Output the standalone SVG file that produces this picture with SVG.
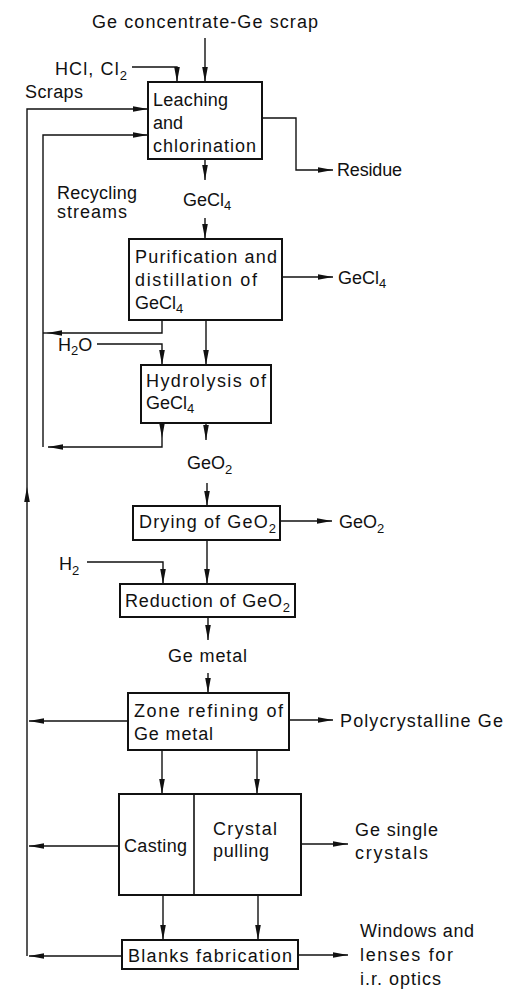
<svg xmlns="http://www.w3.org/2000/svg" width="506" height="990" viewBox="0 0 506 990">
<style>
  text { font-family: "Liberation Sans", Arial, sans-serif; font-size: 18px; fill: #111; }
  .sub { font-size: 13px; }
  .box { fill: #fff; stroke: #111; stroke-width: 2; }
  .ln { fill: none; stroke: #111; stroke-width: 1.4; }
  .arr { fill: none; stroke: #111; stroke-width: 1.4; marker-end: url(#ah); }
</style>
<defs>
  <marker id="ah" markerUnits="userSpaceOnUse" markerWidth="15" markerHeight="6" refX="15" refY="3" orient="auto">
    <path d="M0,0.2 L15,3 L0,5.8 z" fill="#111"/>
  </marker>
</defs>
<rect width="506" height="990" fill="#fff"/>

<g id="connectors">
  <path class="arr" d="M205,38 L205,82"/>
  <path class="arr" d="M132,67 L177,67 L177,82"/>
  <path class="arr" d="M27,956 L27,487"/>
  <path class="arr" d="M27,487 L27,109 L148,109"/>
  <path class="arr" d="M43,447 L43,135 L148,135"/>
  <path class="arr" d="M262,118 L296,118 L296,170 L333,170"/>
  <path class="arr" d="M205,159 L205,180"/>
  <path class="arr" d="M205,218 L205,239"/>
  <path class="arr" d="M282,277 L333,277"/>
  <path class="arr" d="M162,320 L162,333 L47,333"/>
  <path class="ln" d="M47,333 L43,333"/>
  <path class="arr" d="M97,344 L162,344 L162,365"/>
  <path class="arr" d="M206,320 L206,365"/>
  <path class="arr" d="M162,423 L162,438"/>
  <path class="arr" d="M162,438 L162,447 L48,447"/>
  <path class="arr" d="M206,423 L206,440"/>
  <path class="arr" d="M207,483 L207,506"/>
  <path class="arr" d="M280,521 L332,521"/>
  <path class="arr" d="M87,562 L163,562 L163,584"/>
  <path class="arr" d="M207,540 L207,584"/>
  <path class="arr" d="M208,617 L208,640"/>
  <path class="arr" d="M208,673 L208,693"/>
  <path class="arr" d="M128,721 L29,721"/>
  <path class="arr" d="M289,720 L333,720"/>
  <path class="arr" d="M162,750 L162,794"/>
  <path class="arr" d="M257,750 L257,794"/>
  <path class="arr" d="M119,846 L29,846"/>
  <path class="arr" d="M301,844 L348,844"/>
  <path class="arr" d="M163,895 L163,940"/>
  <path class="arr" d="M258,895 L258,940"/>
  <path class="arr" d="M122,956 L29,956"/>
  <path class="arr" d="M298,955 L348,955"/>
</g>

<g id="input-feed"><text x="92" y="28" textLength="226" lengthAdjust="spacing">Ge concentrate-Ge scrap</text></g>
<g id="input-hcl"><text x="55" y="75" textLength="72" lengthAdjust="spacing">HCl, Cl<tspan class="sub" dy="5">2</tspan></text></g>
<g id="label-scraps"><text x="25" y="98" textLength="58" lengthAdjust="spacing">Scraps</text></g>
<g id="label-recycling">
  <text x="57" y="199" textLength="80" lengthAdjust="spacing">Recycling</text>
  <text x="57" y="218" textLength="70" lengthAdjust="spacing">streams</text>
</g>

<g id="leaching">
  <rect class="box" x="148" y="82" width="114" height="77"/>
  <text x="153" y="106" textLength="75" lengthAdjust="spacing">Leaching</text>
  <text x="153" y="129" textLength="30" lengthAdjust="spacing">and</text>
  <text x="153" y="152" textLength="103" lengthAdjust="spacing">chlorination</text>
</g>
<g id="out-residue"><text x="337" y="176" textLength="65" lengthAdjust="spacing">Residue</text></g>
<g id="mid-gecl4"><text x="183" y="206">GeCl<tspan class="sub" dy="4">4</tspan></text></g>

<g id="purification">
  <rect class="box" x="129" y="239" width="153" height="81"/>
  <text x="135" y="263" textLength="142" lengthAdjust="spacing">Purification and</text>
  <text x="135" y="286" textLength="122" lengthAdjust="spacing">distillation of</text>
  <text x="135" y="309">GeCl<tspan class="sub" dy="4">4</tspan></text>
</g>
<g id="out-gecl4"><text x="338" y="284">GeCl<tspan class="sub" dy="4">4</tspan></text></g>
<g id="input-h2o"><text x="58" y="351">H<tspan class="sub" dy="4">2</tspan><tspan dy="-4">O</tspan></text></g>

<g id="hydrolysis">
  <rect class="box" x="141" y="365" width="130" height="58"/>
  <text x="146" y="387" textLength="120" lengthAdjust="spacing">Hydrolysis of</text>
  <text x="146" y="409">GeCl<tspan class="sub" dy="4">4</tspan></text>
</g>
<g id="mid-geo2"><text x="187" y="469">GeO<tspan class="sub" dy="5">2</tspan></text></g>

<g id="drying">
  <rect class="box" x="133" y="506" width="147" height="34"/>
  <text x="139" y="528" textLength="137" lengthAdjust="spacing">Drying of GeO<tspan class="sub" dy="5">2</tspan></text>
</g>
<g id="out-geo2"><text x="339" y="528">GeO<tspan class="sub" dy="5">2</tspan></text></g>
<g id="input-h2"><text x="59" y="570">H<tspan class="sub" dy="5">2</tspan></text></g>

<g id="reduction">
  <rect class="box" x="120" y="584" width="175" height="33"/>
  <text x="125" y="607" textLength="165" lengthAdjust="spacing">Reduction of GeO<tspan class="sub" dy="5">2</tspan></text>
</g>
<g id="mid-ge-metal"><text x="168" y="662" textLength="79" lengthAdjust="spacing">Ge metal</text></g>

<g id="zone-refining">
  <rect class="box" x="128" y="693" width="161" height="57"/>
  <text x="134" y="717" textLength="149" lengthAdjust="spacing">Zone refining of</text>
  <text x="134" y="740" textLength="79" lengthAdjust="spacing">Ge metal</text>
</g>
<g id="out-polycrystalline"><text x="340" y="727" textLength="163" lengthAdjust="spacing">Polycrystalline Ge</text></g>

<g id="casting-pulling">
  <rect class="box" x="119" y="794" width="182" height="101"/>
  <line x1="194" y1="794" x2="194" y2="895" stroke="#111" stroke-width="1.6"/>
  <text x="124" y="852" textLength="63" lengthAdjust="spacing">Casting</text>
  <text x="213" y="835" textLength="64" lengthAdjust="spacing">Crystal</text>
  <text x="213" y="857" textLength="56" lengthAdjust="spacing">pulling</text>
</g>
<g id="out-single-crystals">
  <text x="355" y="836" textLength="83" lengthAdjust="spacing">Ge single</text>
  <text x="355" y="859" textLength="73" lengthAdjust="spacing">crystals</text>
</g>

<g id="blanks">
  <rect class="box" x="122" y="940" width="176" height="29"/>
  <text x="128" y="962" textLength="164" lengthAdjust="spacing">Blanks fabrication</text>
</g>
<g id="out-windows">
  <text x="360" y="937" textLength="114" lengthAdjust="spacing">Windows and</text>
  <text x="360" y="961" textLength="93" lengthAdjust="spacing">lenses for</text>
  <text x="360" y="985" textLength="81" lengthAdjust="spacing">i.r. optics</text>
</g>
</svg>
